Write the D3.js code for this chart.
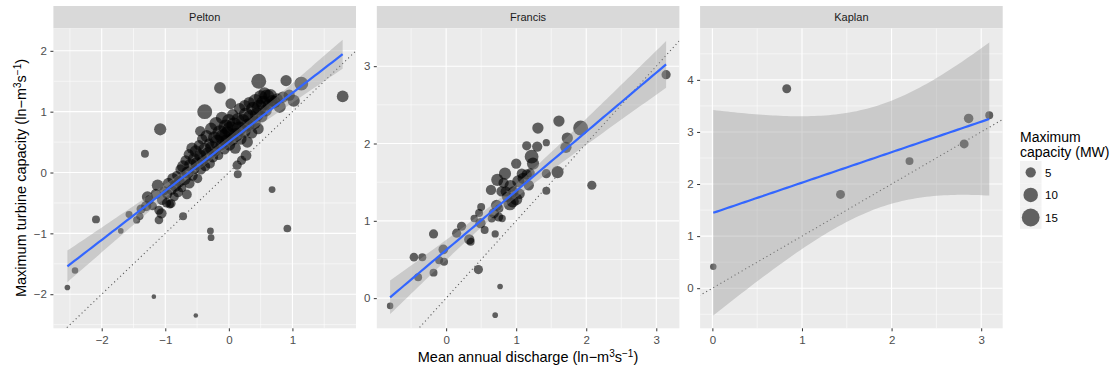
<!DOCTYPE html>
<html>
<head>
<meta charset="utf-8">
<script src="https://cdn.jsdelivr.net/npm/d3@7"></script>
<style>
  html, body { margin: 0; padding: 0; background: #ffffff; }
  svg { display: block; font-family: "Liberation Sans", Arial, Helvetica, sans-serif; }
</style>
</head>
<body>
<svg id="chart" width="1116" height="374"></svg>
<script>
// ---------------- DATA ----------------
const panelNames = ["Pelton", "Francis", "Kaplan"];

// Pelton: mean annual discharge (x), max turbine capacity (y), max capacity MW (size)
const peltonDischarge = [
  -2.54,-2.42,-2.09,-1.70,-1.57,-1.45,-1.40,-1.32,-1.08,-1.18,-0.52,-0.72,-1.10,-0.29,-0.28,-0.38,-0.14,0.03,0.47,0.90,1.14,1.79,0.68,0.92,0.14,0.27,-0.45,
  -1.38,-1.30,-1.28,-1.25,-1.20,-1.15,-1.12,-1.10,-1.06,-1.05,-1.02,-0.98,-0.97,-0.95,-0.93,-0.91,-0.90,-0.88,-0.86,-0.84,-0.82,-0.80,
  -0.78,-0.76,-0.74,-0.72,-0.70,-0.68,-0.66,-0.65,-0.63,-0.62,-0.60,-0.58,-0.57,-0.55,-0.54,-0.52,-0.50,-0.49,-0.47,-0.45,-0.44,-0.42,-0.41,
  -0.38,-0.37,-0.35,-0.33,-0.31,-0.30,-0.28,-0.26,-0.25,-0.23,-0.21,-0.20,-0.18,-0.16,-0.14,-0.12,-0.11,-0.09,-0.07,-0.05,-0.04,-0.02,0.00,0.01,
  0.03,0.05,0.06,0.08,0.10,0.11,0.13,0.14,0.16,0.17,0.19,0.20,0.22,0.24,0.25,0.27,0.29,0.30,0.32,0.34,0.36,0.38,
  0.40,0.42,0.44,0.46,0.48,0.50,0.52,0.54,0.56,0.58,0.60,0.62,0.65,0.68,0.72,0.76,0.80,0.85,0.95,1.02
];
const peltonTurbine = [
  -1.89,-1.61,-0.77,-0.96,-0.69,-0.78,-0.72,0.31,0.71,-2.04,-2.35,-0.72,-0.78,-0.96,-1.07,1.00,1.39,1.13,1.50,1.51,1.46,1.25,-0.28,-0.92,-0.03,0.28,0.68,
  -0.60,-0.55,-0.40,-0.45,-0.55,-0.35,-0.21,-0.62,-0.67,-0.45,-0.30,-0.50,-0.35,-0.18,-0.52,-0.51,-0.28,-0.10,-0.40,-0.22,-0.05,-0.32,
  -0.15,0.05,-0.25,0.10,-0.10,0.20,-0.36,0.00,0.30,-0.18,0.12,0.40,-0.05,0.22,0.05,0.35,0.15,-0.10,0.45,0.28,0.05,0.55,0.20,
  0.38,0.10,0.60,0.30,0.48,0.15,0.72,0.40,0.25,0.58,0.35,0.80,0.50,0.28,0.65,0.45,0.90,0.58,0.38,0.75,0.52,0.62,0.85,0.45,
  0.70,0.55,0.95,0.78,0.40,0.62,0.12,0.88,0.72,1.05,0.55,0.20,0.85,0.68,1.10,0.95,0.50,0.78,1.15,0.90,0.65,1.05,
  0.82,1.17,0.95,0.72,1.07,1.24,0.92,1.14,1.30,1.02,1.24,1.11,1.26,1.18,1.16,1.21,1.08,1.24,1.27,1.18
];
const peltonCapacity = [
  1.5,2,3,1.5,2.3,2.5,2.5,3,7,1,1,3,3.5,2.2,2.2,10.5,6.5,5.5,10.5,6,9,6.5,2.2,2.8,3,5.5,5,
  4,5,6,4,3.5,5,6.5,4,5,5,4,4,5,6,3.5,4,5,6,4,6.5,4,5,
  6,5,4,7,8,5,4.5,7,5,5,8,6,5,7,4,7,8,4,5,7,5,5,6,
  8,4.5,7,9,5,5,7,10,5,7,5,9,10,4,11,6,7,12,5,10,8,13,9,6,
  14,8,6,11,6,9,4,7,10,6,6,4,9,8,6,10,6,8,6,11,6,9,
  8,10,9,6,11,9,6,10,7,7,11,6,9,6,7,6,7,6,6,7
];

// Francis
const francisDischarge = [
  -0.80,-0.46,-0.34,-0.40,-0.18,-0.18,-0.10,-0.04,-0.03,0.46,0.77,0.70,0.70,0.15,0.22,0.33,0.35,0.40,0.49,0.50,0.47,
  0.64,0.65,0.73,0.84,0.82,0.79,0.80,0.76,0.91,0.87,0.96,1.00,1.00,1.03,1.15,1.18,1.22,1.24,1.30,1.31,1.43,1.43,1.43,
  1.59,1.61,1.73,1.71,1.92,2.08,3.14,1.08,0.55,0.68,0.72,0.85,0.92,1.05,1.10,1.15,1.20,0.95,0.75
];
const francisTurbine = [
  -0.10,0.53,0.53,0.27,0.83,0.33,0.49,0.63,0.47,0.37,0.15,-0.22,0.83,0.84,0.93,0.76,0.73,1.03,0.97,1.18,1.10,
  1.40,1.03,1.53,1.61,1.49,1.38,1.03,1.16,1.22,1.31,1.38,1.74,1.28,1.51,1.97,1.46,1.83,1.74,1.96,2.20,2.01,1.61,1.39,
  1.63,2.29,2.07,1.95,2.20,1.46,2.89,1.61,0.88,1.10,1.20,1.38,1.45,1.35,1.55,1.60,1.62,1.25,1.05
];
const francisCapacity = [
  2,3.5,3,3,4,3,3,4.5,3,4,1.5,1.5,2.5,4,4,5,3,2.5,5,3,3,
  5,3,7,7,5,5,2.5,3,8,5,5,5,7,7,4,5,9,7,5,6,2.5,4,3,
  7,6,6,6,10.5,4,4,5,3,5,6,5,7,5,6,5,4,7,4
];

// Kaplan
const kaplanDischarge = [0.01, 0.83, 1.43, 2.20, 2.81, 2.86, 3.09];
const kaplanTurbine   = [0.41, 3.83, 1.80, 2.44, 2.77, 3.26, 3.32];
const kaplanCapacity  = [2, 3.8, 3.8, 3, 3.8, 4.3, 3];

// Axis domains and tick values
const xDomains = [[-2.76, 2.00], [-0.99, 3.33], [-0.137, 3.24]];
const yDomains = [[-2.56, 2.37], [-0.39, 3.49], [-0.77, 4.99]];
const xTickValues = [[-2, -1, 0, 1], [0, 1, 2, 3], [0, 1, 2, 3]];
const yTickValues = [[-2, -1, 0, 1, 2], [0, 1, 2, 3], [0, 1, 2, 3, 4]];
const legendSizes = [5, 10, 15];

// ---------------- LAYOUT ----------------
const svg = d3.select("#chart");
const panelLeft = [53.4, 376.8, 700.1];
const panelW = 302.6;
const stripTop = 6, stripH = 22.3;
const panelTop = 28.3, panelBottom = 328.3;
const fmt = v => (v < 0 ? "\u2212" + Math.abs(v) : String(v));

const rScale = d3.scaleSqrt().domain([0, 15]).range([0, 2.3 * Math.sqrt(15)]);

const datasets = [
  d3.range(peltonDischarge.length).map(i => ({x: peltonDischarge[i], y: peltonTurbine[i], s: peltonCapacity[i]})),
  d3.range(francisDischarge.length).map(i => ({x: francisDischarge[i], y: francisTurbine[i], s: francisCapacity[i]})),
  d3.range(kaplanDischarge.length).map(i => ({x: kaplanDischarge[i], y: kaplanTurbine[i], s: kaplanCapacity[i]}))
];

function tQuant975(df) {
  const z = 1.959964;
  const z3 = z*z*z, z5 = z3*z*z, z7 = z5*z*z, z9 = z7*z*z;
  return z + (z3 + z)/(4*df) + (5*z5 + 16*z3 + 3*z)/(96*df*df)
    + (3*z7 + 19*z5 + 17*z3 - 15*z)/(384*df*df*df)
    + (79*z9 + 776*z7 + 1482*z5 - 1920*z3 - 945*z)/(92160*Math.pow(df,4));
}

function lmFit(pts) {
  const n = pts.length;
  const mx = d3.mean(pts, d => d.x), my = d3.mean(pts, d => d.y);
  const sxx = d3.sum(pts, d => (d.x - mx) ** 2);
  const sxy = d3.sum(pts, d => (d.x - mx) * (d.y - my));
  const b = sxy / sxx, a = my - b * mx;
  const ssr = d3.sum(pts, d => (d.y - a - b * d.x) ** 2);
  const s = Math.sqrt(ssr / (n - 2));
  const t = tQuant975(n - 2);
  const [xmin, xmax] = d3.extent(pts, d => d.x);
  const grid = d3.range(80).map(i => xmin + (xmax - xmin) * i / 79);
  return grid.map(x => {
    const f = a + b * x;
    const se = s * Math.sqrt(1 / n + (x - mx) ** 2 / sxx);
    return {x, y: f, lo: f - t * se, hi: f + t * se};
  });
}

const defs = svg.append("defs");

datasets.forEach((pts, k) => {
  const x0 = panelLeft[k];
  const x = d3.scaleLinear().domain(xDomains[k]).range([x0, x0 + panelW]);
  const y = d3.scaleLinear().domain(yDomains[k]).range([panelBottom, panelTop]);

  // strip
  svg.append("rect").attr("x", x0).attr("y", stripTop).attr("width", panelW).attr("height", stripH).attr("fill", "#d9d9d9");
  svg.append("text").attr("x", x0 + panelW / 2).attr("y", stripTop + stripH / 2 + 4)
    .attr("text-anchor", "middle").attr("font-size", 11).attr("fill", "#1a1a1a").text(panelNames[k]);

  // panel background
  svg.append("rect").attr("x", x0).attr("y", panelTop).attr("width", panelW).attr("height", panelBottom - panelTop).attr("fill", "#ebebeb");

  const clipId = "clip" + k;
  defs.append("clipPath").attr("id", clipId).append("rect")
    .attr("x", x0).attr("y", panelTop).attr("width", panelW).attr("height", panelBottom - panelTop);
  const g = svg.append("g").attr("clip-path", `url(#${clipId})`);

  // grid: minor then major
  const xt = xTickValues[k], yt = yTickValues[k];
  const stepX = xt[1] - xt[0], stepY = yt[1] - yt[0];
  const xMinor = d3.range(xt[0] - stepX / 2, xDomains[k][1], stepX).filter(v => v > xDomains[k][0]);
  const yMinor = d3.range(yt[0] - stepY / 2, yDomains[k][1], stepY).filter(v => v > yDomains[k][0]);
  g.selectAll(null).data(xMinor).join("line")
    .attr("x1", d => x(d)).attr("x2", d => x(d)).attr("y1", panelTop).attr("y2", panelBottom)
    .attr("stroke", "#ffffff").attr("stroke-width", 0.55);
  g.selectAll(null).data(yMinor).join("line")
    .attr("y1", d => y(d)).attr("y2", d => y(d)).attr("x1", x0).attr("x2", x0 + panelW)
    .attr("stroke", "#ffffff").attr("stroke-width", 0.55);
  g.selectAll(null).data(xt).join("line")
    .attr("x1", d => x(d)).attr("x2", d => x(d)).attr("y1", panelTop).attr("y2", panelBottom)
    .attr("stroke", "#ffffff").attr("stroke-width", 1.1);
  g.selectAll(null).data(yt).join("line")
    .attr("y1", d => y(d)).attr("y2", d => y(d)).attr("x1", x0).attr("x2", x0 + panelW)
    .attr("stroke", "#ffffff").attr("stroke-width", 1.1);

  // points
  g.selectAll(null).data(pts).join("circle")
    .attr("cx", d => x(d.x)).attr("cy", d => y(d.y)).attr("r", d => rScale(d.s))
    .attr("fill", "#000000").attr("fill-opacity", 0.6);

  // 1:1 dotted line
  const lo = Math.min(xDomains[k][0], yDomains[k][0]) - 1, hi = Math.max(xDomains[k][1], yDomains[k][1]) + 1;
  g.append("line").attr("x1", x(lo)).attr("y1", y(lo)).attr("x2", x(hi)).attr("y2", y(hi))
    .attr("stroke", "#595959").attr("stroke-width", 1.1).attr("stroke-dasharray", "1.1,3");

  // smooth (lm) ribbon + line
  const fit = lmFit(pts);
  g.append("path").datum(fit)
    .attr("d", d3.area().x(d => x(d.x)).y0(d => y(d.lo)).y1(d => y(d.hi)))
    .attr("fill", "#999999").attr("fill-opacity", 0.4);
  g.append("path").datum(fit)
    .attr("d", d3.line().x(d => x(d.x)).y(d => y(d.y)))
    .attr("fill", "none").attr("stroke", "#3366FF").attr("stroke-width", 2.2);

  // axes
  const ax = svg.append("g").attr("transform", `translate(0,${panelBottom})`)
    .call(d3.axisBottom(x).tickValues(xt).tickFormat(fmt).tickSizeInner(3).tickSizeOuter(0).tickPadding(5));
  const ay = svg.append("g").attr("transform", `translate(${x0},0)`)
    .call(d3.axisLeft(y).tickValues(yt).tickFormat(fmt).tickSizeInner(3).tickSizeOuter(0).tickPadding(3.5));
  [ax, ay].forEach(a => {
    a.select(".domain").remove();
    a.selectAll(".tick line").attr("stroke", "#333333").attr("stroke-width", 1);
    a.selectAll(".tick text").attr("fill", "#4d4d4d").attr("font-size", 11.5)
      .attr("font-family", "'Liberation Sans', Arial, sans-serif");
  });
});

// axis titles
const xTitle = svg.append("text").attr("x", 528).attr("y", 362).attr("text-anchor", "middle")
  .attr("font-size", 14.5).attr("fill", "#000");
xTitle.append("tspan").text("Mean annual discharge (ln\u2212m");
xTitle.append("tspan").attr("dy", -5).attr("font-size", 10).text("3");
xTitle.append("tspan").attr("dy", 5).text("s");
xTitle.append("tspan").attr("dy", -5).attr("font-size", 10).text("\u22121");
xTitle.append("tspan").attr("dy", 5).text(")");

const yTitle = svg.append("text").attr("transform", "translate(26,178) rotate(-90)").attr("text-anchor", "middle")
  .attr("font-size", 14.5).attr("fill", "#000");
yTitle.append("tspan").text("Maximum turbine capacity (ln\u2212m");
yTitle.append("tspan").attr("dy", -5).attr("font-size", 10).text("3");
yTitle.append("tspan").attr("dy", 5).text("s");
yTitle.append("tspan").attr("dy", -5).attr("font-size", 10).text("\u22121");
yTitle.append("tspan").attr("dy", 5).text(")");

// legend
const lg = svg.append("g");
lg.append("text").attr("x", 1020).attr("y", 142).attr("font-size", 14).attr("fill", "#000").text("Maximum");
lg.append("text").attr("x", 1020).attr("y", 157).attr("font-size", 14).attr("fill", "#000").text("capacity (MW)");
const keyH = 22.6, keyTop = 161;
lg.selectAll(null).data(legendSizes).join("rect")
  .attr("x", 1020).attr("y", (d, i) => keyTop + i * keyH).attr("width", 21.5).attr("height", keyH)
  .attr("fill", "#f2f2f2");
lg.selectAll(null).data(legendSizes).join("circle")
  .attr("cx", 1030.7).attr("cy", (d, i) => keyTop + i * keyH + keyH / 2).attr("r", d => rScale(d))
  .attr("fill", "#000").attr("fill-opacity", 0.6);
lg.selectAll(null).data(legendSizes).join("text")
  .attr("x", 1045).attr("y", (d, i) => keyTop + i * keyH + keyH / 2 + 4.2)
  .attr("font-size", 11.5).attr("fill", "#000").text(d => d);
</script>
</body>
</html>
